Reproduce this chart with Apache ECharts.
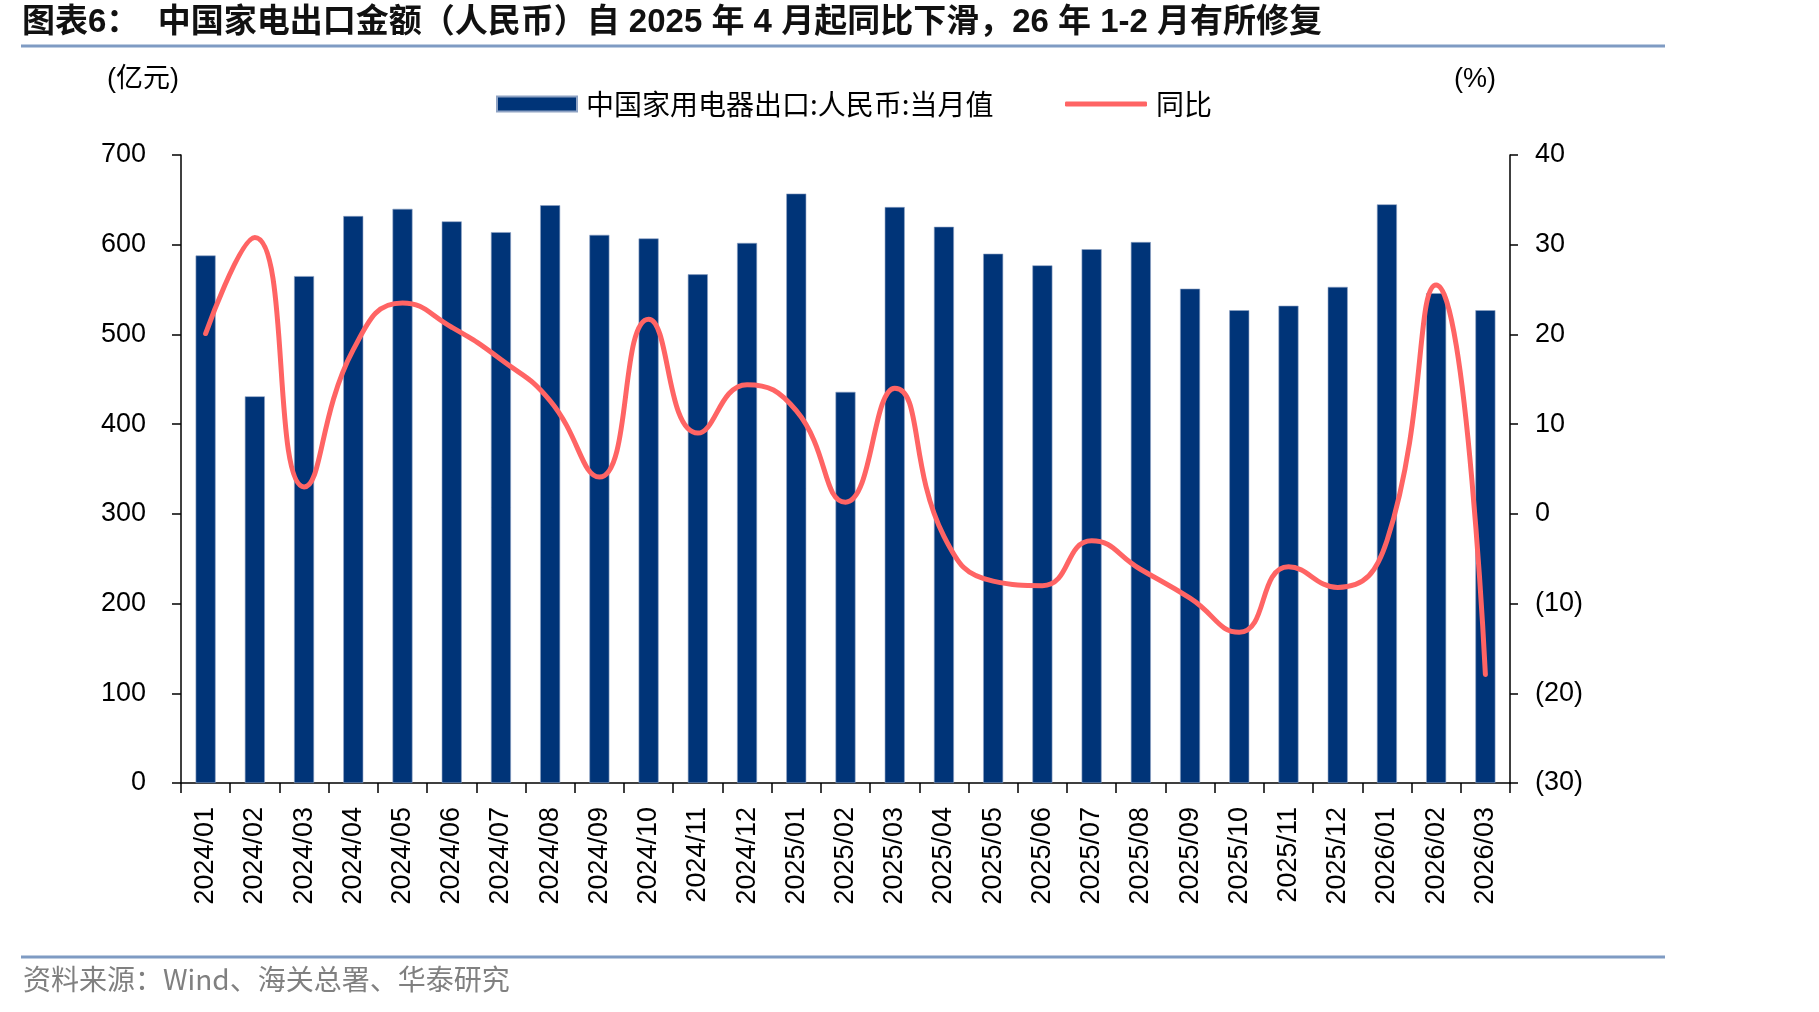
<!DOCTYPE html>
<html>
<head>
<meta charset="utf-8">
<script src="https://cdn.jsdelivr.net/npm/echarts@6/dist/echarts.min.js"></script>
<style>
  html, body { margin: 0; padding: 0; background: #fff; }
  #chart { width: 1819px; height: 1012px; }
</style>
</head>
<body>
<div id="chart"></div>
<script>
var months = ['2024/01', '2024/02', '2024/03', '2024/04', '2024/05', '2024/06', '2024/07', '2024/08', '2024/09',
  '2024/10', '2024/11', '2024/12', '2025/01', '2025/02', '2025/03', '2025/04', '2025/05', '2025/06', '2025/07',
  '2025/08', '2025/09', '2025/10', '2025/11', '2025/12', '2026/01', '2026/02', '2026/03'];

// 中国家用电器出口:人民币:当月值 (亿元)
var exportValue = [588, 431, 565, 632, 640, 626, 614, 644, 611, 607, 567, 602, 657, 436, 642,
  620, 590, 577, 595, 603, 551, 527, 532, 553, 645, 546, 527];

// 同比 (%)
var yoy = [20.1, 30.8, 3.0, 18.3, 23.5, 20.8, 17.2, 12.6, 4.1, 21.7, 9.0, 14.4, 11.5, 1.3, 14.0,
  -2.5, -7.5, -8.0, -3.0, -6.2, -9.4, -13.2, -5.9, -8.2, -3.0, 25.5, -17.9];

var titleText = '图表6：  中国家电出口金额（人民币）自 2025 年 4 月起同比下滑，26 年 1-2 月有所修复';
var sourceText = '资料来源：Wind、海关总署、华泰研究';

var latin = '"Liberation Sans", Arial, "Noto Sans CJK SC", sans-serif';
var cjk = '"Noto Sans CJK SC", "Liberation Sans", sans-serif';

var barColor = '#003478';
var lineColor = '#FF6464';

var chart = echarts.init(document.getElementById('chart'));

var legendText = {
  fontFamily: cjk,
  fontSize: 28,
  color: '#000',
  padding: [0, 0, 0, 4]
};

var option = {
  backgroundColor: '#fff',
  animation: false,
  title: {
    text: titleText,
    left: 22,
    top: 6,
    padding: 0,
    textStyle: {
      fontFamily: latin,
      fontSize: 33,
      fontWeight: 'bold',
      color: '#111'
    }
  },
  legend: [
    {
      left: 491,
      top: 85,
      itemWidth: 80,
      itemHeight: 15,
      textStyle: legendText,
      data: [{ name: '中国家用电器出口:人民币:当月值', icon: 'rect' }]
    },
    {
      left: 1060,
      top: 85,
      itemWidth: 82,
      itemHeight: 5,
      textStyle: legendText,
      data: [{ name: '同比', icon: 'roundRect' }]
    }
  ],
  grid: {
    left: 181,
    right: 309,
    top: 155,
    bottom: 229
  },
  xAxis: {
    type: 'category',
    data: months,
    boundaryGap: true,
    axisLine: { lineStyle: { color: '#000', width: 1.5 } },
    axisTick: { show: true, length: 10, lineStyle: { color: '#000', width: 1.5 } },
    axisLabel: {
      rotate: 90,
      margin: 24,
      interval: 0,
      fontFamily: latin,
      fontSize: 27,
      color: '#000'
    }
  },
  yAxis: [
    {
      type: 'value',
      min: 0,
      max: 700,
      interval: 100,
      splitLine: { show: false },
      axisLine: { show: true, lineStyle: { color: '#000', width: 1.5 } },
      axisTick: { show: true, length: 9, lineStyle: { color: '#000', width: 1.5 } },
      axisLabel: {
        margin: 35,
        fontFamily: latin,
        fontSize: 27,
        color: '#000'
      }
    },
    {
      type: 'value',
      min: -30,
      max: 40,
      interval: 10,
      splitLine: { show: false },
      axisLine: { show: true, lineStyle: { color: '#000', width: 1.5 } },
      axisTick: { show: true, length: 8, lineStyle: { color: '#000', width: 1.5 } },
      axisLabel: {
        margin: 25,
        fontFamily: latin,
        fontSize: 27,
        color: '#000',
        formatter: function (v) {
          return v < 0 ? '(' + Math.abs(v) + ')' : String(v);
        }
      }
    }
  ],
  series: [
    {
      name: '中国家用电器出口:人民币:当月值',
      type: 'bar',
      yAxisIndex: 0,
      barWidth: 20,
      data: exportValue,
      itemStyle: {
        color: barColor,
        borderColor: '#8fa3c4',
        borderWidth: 0.6
      }
    },
    {
      name: '同比',
      type: 'line',
      yAxisIndex: 1,
      data: yoy,
      smooth: 0.5,
      symbol: 'none',
      lineStyle: { color: lineColor, width: 5, cap: 'round' },
      itemStyle: { color: lineColor }
    }
  ],
  graphic: [
    {
      type: 'line',
      shape: { x1: 21, y1: 46, x2: 1665, y2: 46 },
      style: { stroke: '#7f9bc3', lineWidth: 3 }
    },
    {
      type: 'line',
      shape: { x1: 21, y1: 957, x2: 1665, y2: 957 },
      style: { stroke: '#7f9bc3', lineWidth: 3 }
    },
    {
      type: 'text',
      left: 23,
      top: 965,
      style: {
        text: sourceText,
        fontFamily: cjk,
        fontSize: 28,
        fill: '#808080'
      }
    },
    {
      type: 'text',
      left: 107,
      top: 66,
      style: {
        text: '(亿元)',
        fontFamily: latin,
        fontSize: 27,
        fill: '#000'
      }
    },
    {
      type: 'text',
      left: 1454,
      top: 66,
      style: {
        text: '(%)',
        fontFamily: latin,
        fontSize: 27,
        fill: '#000'
      }
    }
  ]
};

chart.setOption(option);
</script>
</body>
</html>
